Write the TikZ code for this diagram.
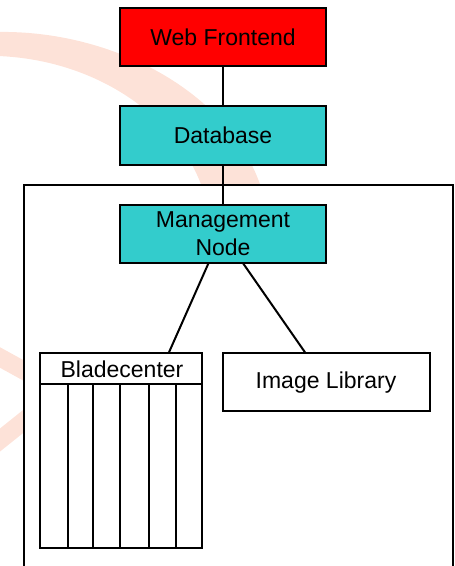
\documentclass[tikz,border=0pt]{standalone}
\usepackage{fontspec}
\setmainfont{Liberation Sans}
\definecolor{webred}{RGB}{255,0,0}
\definecolor{dbcyan}{RGB}{51,204,204}
\definecolor{wmark}{RGB}{253,226,216}

\begin{document}
\begin{tikzpicture}[x=1pt,y=-1pt,
  box/.style={draw,line width=2pt,minimum width=206pt,minimum height=58pt,inner sep=0pt,
    font=\fontsize{23}{27.4}\selectfont,align=center},
  link/.style={line width=2pt}]
\useasboundingbox (0,0) rectangle (455,566);
\fill[wmark] (-2,32) .. controls (110,30) and (230,90) .. (262,190) -- (203,190)
  .. controls (180,120) and (100,60) .. (-2,56) -- cycle;
\draw[wmark,line width=18pt] (-10,352) -- (30,374);
\draw[wmark,line width=18pt] (-10,448) -- (30,416);
\draw[link,fill=white] (24,590) |- (453,185.3) -- (453,590);

\node[box,fill=webred] (web) at (223,37.2) {Web Frontend};
\node[box,fill=dbcyan,minimum height=59pt] (db) at (223,135.5) {Database};
\node[box,fill=dbcyan] (mgmt) at (223,233.5) {Management\\Node};
\node[box,fill=white,minimum width=207pt] (lib) at (326,382.3) {Image Library};
\node[draw,line width=2pt,fill=white,minimum width=162pt,minimum height=194.7pt,inner sep=0pt] (blade) at (121,450.7) {};
\node[font=\fontsize{23}{27.4}\selectfont] (bladehead) at (122,369.5) {Bladecenter};
\draw[link] (40,384) -- (202,384);
\foreach \x in {67.7,93.3,120,149.3,175.7}
  \draw[link] (\x,384) -- (\x,548);

\draw[link] (web) -- (db);
\draw[link] (db) -- (mgmt);
\draw[link] (mgmt.244.4) -- (blade.64.1);
\draw[link] (mgmt.304.8) -- (lib.125.9);
\end{tikzpicture}
\end{document}
